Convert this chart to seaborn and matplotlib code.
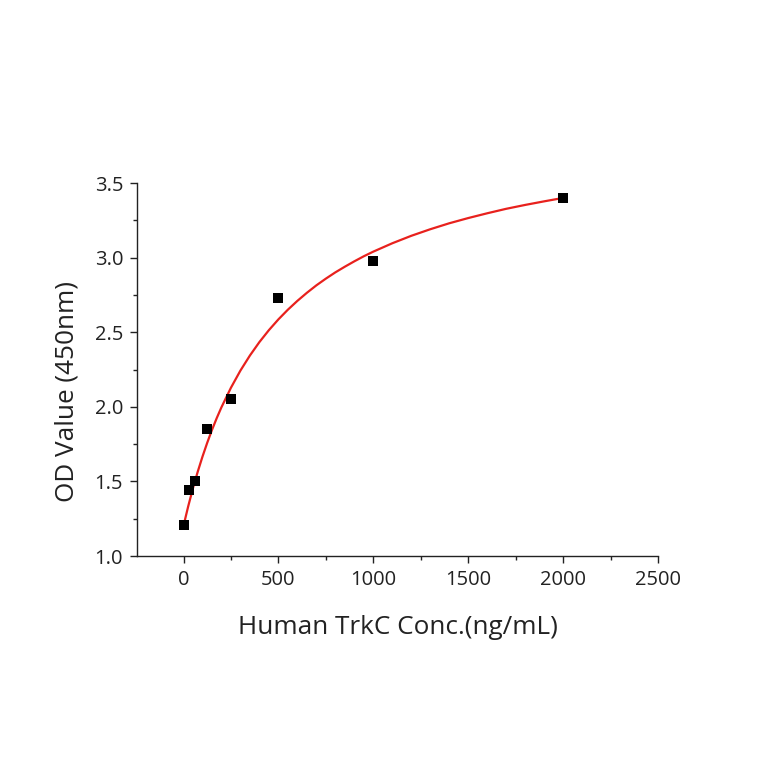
import matplotlib
matplotlib.use("Agg")
import matplotlib.pyplot as plt
import seaborn as sns
import pandas as pd
from matplotlib.ticker import MultipleLocator

# measured points
conc = [0, 31.25, 62.5, 125, 250, 500, 1000, 2000]
od = [1.21, 1.44, 1.50, 1.85, 2.05, 2.73, 2.98, 3.40]

# fitted curve, values
curve_x = [0, 10, 25, 50, 75, 100, 125, 150, 175, 200, 250, 300, 350, 400, 450, 500,
           550, 600, 650, 700, 750, 800, 850, 900, 950, 1000, 1100, 1200, 1300, 1400,
           1500, 1600, 1700, 1800, 1900, 2000]
curve_y = [1.200, 1.255, 1.334, 1.455, 1.565, 1.666, 1.759, 1.845, 1.924, 1.997,
           2.128, 2.243, 2.344, 2.434, 2.514, 2.586, 2.651, 2.710, 2.764, 2.814,
           2.859, 2.901, 2.939, 2.975, 3.009, 3.040, 3.096, 3.146, 3.190, 3.230,
           3.265, 3.297, 3.327, 3.353, 3.377, 3.400]

sns.set_theme(style="ticks")
plt.rcParams['font.family'] = ['Open Sans', 'DejaVu Sans']

fig = plt.figure(figsize=(7.64, 7.64), dpi=100)
ax = fig.add_axes([137/764, 1-556/764, (658-137)/764, (556-183)/764])

pts = pd.DataFrame({"x": conc, "y": od})
cur = pd.DataFrame({"x": curve_x, "y": curve_y})
sns.lineplot(data=cur, x="x", y="y", ax=ax, color="#e8211d", lw=1.6, zorder=2)
sns.scatterplot(data=pts, x="x", y="y", ax=ax, marker="s", s=60, color="black",
                edgecolor="black", linewidth=0, zorder=3)

ax.set_xlim(-245, 2500)
ax.set_ylim(1.0, 3.5)
ax.xaxis.set_major_locator(MultipleLocator(500))
ax.xaxis.set_minor_locator(MultipleLocator(250))
ax.yaxis.set_major_locator(MultipleLocator(0.5))
ax.yaxis.set_minor_locator(MultipleLocator(0.25))
ax.yaxis.set_major_formatter(matplotlib.ticker.FormatStrFormatter('%.1f'))
for s in ["top", "right"]:
    ax.spines[s].set_visible(False)
for s in ["left", "bottom"]:
    ax.spines[s].set_linewidth(1.0)
    ax.spines[s].set_color("#222222")
ax.tick_params(which="major", direction="out", length=5, width=1.0, labelsize=14.5,
               color="#222222", labelcolor="#222222", pad=5)
ax.tick_params(which="minor", direction="out", length=3, width=1.0, color="#222222")
ax.set_xlabel("Human TrkC Conc.(ng/mL)", fontsize=18.8, color="#222222", labelpad=18)
ax.set_ylabel("OD Value (450nm)", fontsize=18.8, color="#222222")
ax.yaxis.set_label_coords(-0.134, 0.442)
ax.yaxis.label.set_verticalalignment("center")

fig.savefig("out.png", dpi=100)
